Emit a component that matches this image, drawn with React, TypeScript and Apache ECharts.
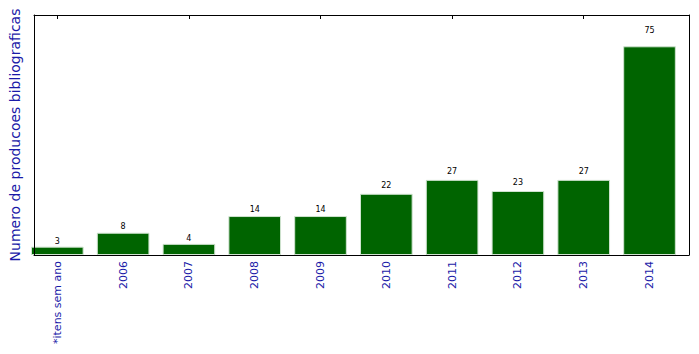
import React, { useEffect, useRef } from "react";
import * as echarts from "echarts";

const categories = ["*itens sem ano", "2006", "2007", "2008", "2009", "2010", "2011", "2012", "2013", "2014"];
const values = [3, 8, 4, 14, 14, 22, 27, 23, 27, 75];
const yMax = 86.25;
const yTitle = "Numero de producoes bibliograficas";

export default function App() {
  const ref = useRef<HTMLDivElement>(null);
  useEffect(() => {
    if (!ref.current) return;
    const chart = echarts.init(ref.current, undefined, { renderer: "svg" });
    const font = "DejaVu Sans";
    const W = 699;
    const plotLeft = 31;
    const plotRight = 689;
    const plotTop = 15;
    const plotBottom = 255;
    const plotW = plotRight - plotLeft;
    const plotH = plotBottom - plotTop;
    const step = plotW / categories.length;
    const shift = step * 0.1;
    const pxPerUnit = plotH / yMax;
    const blue = "#1a1aa8";
    const frameAxis = (pos: string) => ({
      gridIndex: 0,
      type: "value",
      min: 0,
      max: 1,
      position: pos,
      axisLine: { show: true, onZero: false, lineStyle: { color: "#000", width: 1 } },
      axisTick: { show: false },
      axisLabel: { show: false },
      splitLine: { show: false },
      z: 10,
    });
    chart.setOption({
      animation: false,
      textStyle: { fontFamily: font },
      grid: [
        { left: plotLeft, right: W - plotRight, top: plotTop, bottom: 354 - plotBottom },
        { left: plotLeft - shift, right: W - plotRight + shift, top: plotTop, bottom: 354 - plotBottom },
      ],
      xAxis: [
        frameAxis("bottom"),
        frameAxis("top"),
        {
          gridIndex: 1,
          type: "category",
          data: categories,
          position: "bottom",
          axisLine: { show: false },
          axisTick: { show: true, inside: true, alignWithLabel: true, length: 4, lineStyle: { color: "#000" } },
          axisLabel: { rotate: 90, color: blue, fontSize: 11, margin: 6, fontFamily: font, interval: 0 },
        },
        {
          gridIndex: 1,
          type: "category",
          data: categories,
          position: "top",
          axisLine: { show: false },
          axisTick: { show: true, inside: true, alignWithLabel: true, length: 4, lineStyle: { color: "#000" } },
          axisLabel: { show: false },
        },
      ],
      yAxis: [
        {
          ...frameAxis("left"),
          max: yMax,
          name: yTitle,
          nameLocation: "middle",
          nameGap: 12,
          nameTextStyle: { color: blue, fontSize: 14, fontFamily: font },
        },
        frameAxis("right"),
        { gridIndex: 1, type: "value", min: 0, max: yMax, show: false, splitLine: { show: false } },
      ],
      series: [
        {
          type: "bar",
          xAxisIndex: 2,
          yAxisIndex: 2,
          data: values.map((v) => ({ value: v, label: { distance: 1 + 0.05 * v * pxPerUnit } })),
          barCategoryGap: "20%",
          itemStyle: { color: "#006400", borderColor: "#cfe3cf", borderWidth: 1 },
          label: { show: true, position: "top", color: "#000", fontSize: 8, fontFamily: font },
        },
      ],
    });
    return () => chart.dispose();
  }, []);
  return <div ref={ref} style={{ position: "absolute", left: 0, top: 0, width: 699, height: 354 }} />;
}
